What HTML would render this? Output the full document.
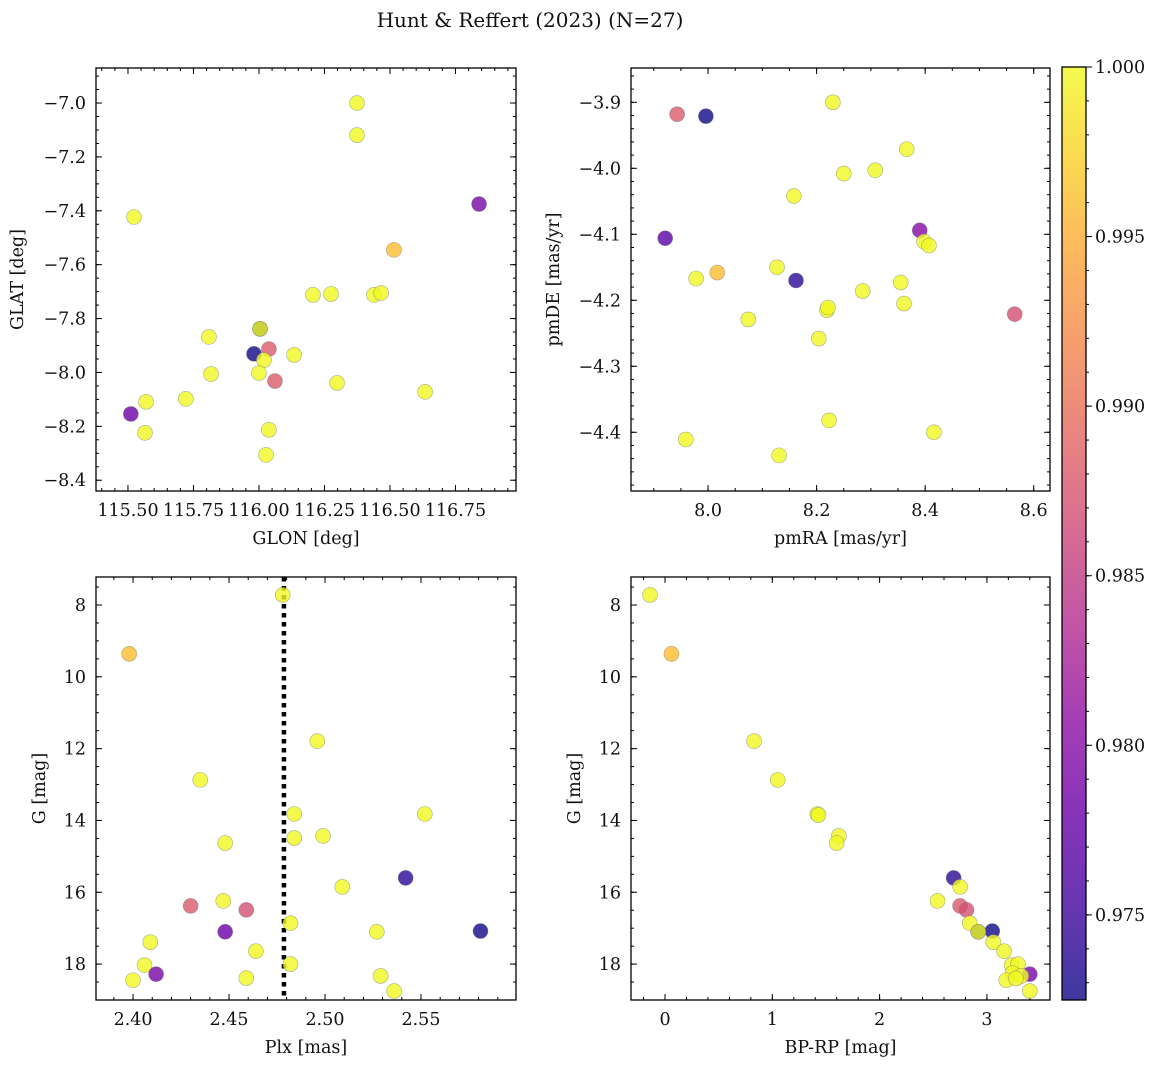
<!DOCTYPE html>
<html><head><meta charset="utf-8"><style>
body{margin:0;background:#fff}
svg text{font-family:"DejaVu Serif","Liberation Serif",serif;fill:#111}
</style></head><body>
<svg id="s" width="1161" height="1067" xmlns="http://www.w3.org/2000/svg">
<defs><linearGradient id="pl" x1="0" y1="1" x2="0" y2="0">
<stop offset="0" stop-color="#0d0887"/><stop offset="0.1" stop-color="#41049d"/><stop offset="0.2" stop-color="#6a00a8"/><stop offset="0.3" stop-color="#8f0da4"/><stop offset="0.4" stop-color="#b12a90"/><stop offset="0.5" stop-color="#cc4778"/><stop offset="0.6" stop-color="#e16462"/><stop offset="0.7" stop-color="#f2844b"/><stop offset="0.8" stop-color="#fca636"/><stop offset="0.9" stop-color="#fcce25"/><stop offset="1" stop-color="#f0f921"/></linearGradient></defs>
<text x="530" y="27" font-size="20" text-anchor="middle">Hunt &amp; Reffert (2023) (N=27)</text>
</svg>
<script>
// Panel 1: GLON / GLAT
const p1x=[116.374,116.374,115.523,116.84,116.515,116.206,116.275,116.439,116.466,115.809,115.981,116.004,116.038,116.019,116.134,115.817,116.0,116.061,116.298,116.634,115.721,115.569,115.511,115.565,116.038,116.027,116.004];
const p1y=[-7.0,-7.119,-7.423,-7.375,-7.545,-7.712,-7.709,-7.712,-7.705,-7.868,-7.931,-7.838,-7.913,-7.954,-7.935,-8.006,-8.002,-8.032,-8.039,-8.072,-8.098,-8.109,-8.154,-8.224,-8.213,-8.306,-7.838];
const p1c=[1,1,1,0.979,0.996,1,1,1,1,1,0.9726,0.9726,0.988,1,1,1,1,0.988,1,1,1,1,0.978,1,1,1,1];
// Panel 2: pmRA / pmDE
const p2x=[7.943,7.996,8.230,8.366,8.250,8.308,8.158,7.921,8.390,8.398,8.407,7.978,8.017,8.127,8.162,8.355,8.361,8.285,8.219,8.221,8.565,8.074,8.204,8.223,8.416,7.959,8.131];
const p2y=[-3.918,-3.921,-3.900,-3.971,-4.008,-4.003,-4.042,-4.106,-4.094,-4.111,-4.117,-4.167,-4.158,-4.150,-4.170,-4.173,-4.205,-4.186,-4.215,-4.211,-4.221,-4.229,-4.258,-4.382,-4.400,-4.411,-4.435];
const p2c=[0.988,0.9726,1,1,1,1,1,0.977,0.980,1,1,1,0.996,1,0.974,1,1,1,1,1,0.987,1,1,1,1,1,1];
// Panel 3: Plx / G
const p3x=[2.478,2.398,2.496,2.435,2.484,2.552,2.484,2.499,2.448,2.542,2.509,2.447,2.430,2.459,2.448,2.527,2.581,2.482,2.409,2.464,2.406,2.482,2.412,2.529,2.459,2.400,2.536];
const p3y=[7.72,9.36,11.79,12.87,13.82,13.82,14.49,14.43,14.63,15.60,15.85,16.24,16.38,16.49,17.10,17.10,17.08,16.86,17.39,17.64,18.03,18.0,18.28,18.33,18.39,18.45,18.75];
const p3c=[1,0.996,1,1,1,1,1,1,1,0.974,1,1,0.988,0.987,0.978,1,0.9726,1,1,1,1,1,0.979,1,1,1,1];
const plxMean=2.4786;
// Panel 4: BP-RP / G
const p4x=[-0.14,0.06,0.83,1.05,1.42,1.43,1.62,1.60,2.69,2.75,2.54,2.75,2.81,2.84,2.92,3.05,3.06,3.16,3.23,3.29,3.40,3.24,3.32,3.18,3.40,2.92,3.27];
const p4y=[7.72,9.36,11.79,12.87,13.82,13.85,14.43,14.63,15.60,15.85,16.24,16.38,16.49,16.86,17.10,17.08,17.39,17.64,18.03,18.0,18.28,18.25,18.33,18.45,18.75,17.10,18.40];
const p4c=[1,0.996,1,1,1,1,1,1,0.974,1,1,0.988,0.987,1,0.9726,0.9726,1,1,1,1,0.979,1,1,1,1,1,1];
const cbTicks=[1.000,0.995,0.990,0.985,0.980,0.975];

const NS="http://www.w3.org/2000/svg",S=document.getElementById('s');
function mk(t,a,p){const e=document.createElementNS(NS,t);for(const k in a)e.setAttribute(k,a[k]);(p||S).appendChild(e);return e;}
const stops=[[13,8,135],[65,4,157],[106,0,168],[143,13,164],[177,42,144],[204,71,120],[225,100,98],[242,132,75],[252,166,54],[252,206,37],[240,249,33]];
const VMIN=0.97249,VMAX=1.0;
function cmap(v){let t=Math.max(0,Math.min(1,(v-VMIN)/(VMAX-VMIN)))*10;const i=Math.min(9,Math.floor(t)),f=t-i;const a=stops[i],b=stops[i+1];return 'rgb('+a.map((c,k)=>Math.round(c+(b[k]-c)*f)).join(',')+')';}
function fmt(v,d){return (v<0?'\u2212':'')+Math.abs(v).toFixed(d);}
const FS=17.5;
function panel(o){
  const g=mk('g',{});
  
  
  const X=v=>o.L+(v-o.x0)/(o.x1-o.x0)*(o.R-o.L);
  const Y=v=>o.T+(v-o.y0)/(o.y1-o.y0)*(o.B-o.T);
  mk('rect',{x:o.L,y:o.T,width:o.R-o.L,height:o.B-o.T,fill:'none',stroke:'#000','stroke-width':1.3},g);
  const ticks=(a,b,st)=>{const r=[];const s=Math.ceil(Math.min(a,b)/st-1e-6);for(let k=s;k*st<=Math.max(a,b)+1e-9;k++)r.push(k*st);return r;};
  ticks(o.x0,o.x1,o.xmi).forEach(v=>{const x=X(v);mk('line',{x1:x,x2:x,y1:o.B,y2:o.B-3,stroke:'#000'},g);mk('line',{x1:x,x2:x,y1:o.T,y2:o.T+3,stroke:'#000'},g);});
  ticks(o.y0,o.y1,o.ymi).forEach(v=>{const y=Y(v);mk('line',{x1:o.L,x2:o.L+3,y1:y,y2:y,stroke:'#000'},g);mk('line',{x1:o.R,x2:o.R-3,y1:y,y2:y,stroke:'#000'},g);});
  o.xt.forEach(v=>{const x=X(v);mk('line',{x1:x,x2:x,y1:o.B,y2:o.B-6,stroke:'#000'},g);mk('line',{x1:x,x2:x,y1:o.T,y2:o.T+6,stroke:'#000'},g);
    const t=mk('text',{x:x,y:o.B+25,'font-size':FS,'text-anchor':'middle'},g);t.textContent=fmt(v,o.xd);
    
    });
  o.yt.forEach(v=>{const y=Y(v);mk('line',{x1:o.L,x2:o.L+6,y1:y,y2:y,stroke:'#000'},g);mk('line',{x1:o.R,x2:o.R-6,y1:y,y2:y,stroke:'#000'},g);
    const t=mk('text',{x:o.L-10,y:y+6,'font-size':FS,'text-anchor':'end'},g);t.textContent=fmt(v,o.yd);
    
    });
  const xl=mk('text',{x:(o.L+o.R)/2,y:o.B+53,'font-size':FS,'text-anchor':'middle'},g);xl.textContent=o.xl;
  
  
  const yl=mk('text',{x:0,y:0,'font-size':FS,'text-anchor':'middle',transform:`translate(${o.yx},${(o.T+o.B)/2}) rotate(-90)`},g);yl.textContent=o.yl;
  
  
  if(o.vline!==undefined){const l=mk('line',{x1:X(o.vline),x2:X(o.vline),y1:o.T,y2:o.B,stroke:'#000','stroke-width':4.5,'stroke-dasharray':'4.5,4.5'},g);
    
    }
  o.xs.forEach((v,i)=>{const c=mk('circle',{cx:X(v),cy:Y(o.ys[i]),r:7.5,fill:cmap(o.cs[i]),'fill-opacity':0.8,stroke:'#777','stroke-opacity':0.6,'stroke-width':0.6},g);
    
    });
}
panel({name:'glon-glat-panel',L:96,R:516,T:68,B:491,x0:115.378,x1:116.981,y0:-6.870,y1:-8.440,xt:[115.5,115.75,116,116.25,116.5,116.75],xd:2,xmi:0.05,yt:[-7.0,-7.2,-7.4,-7.6,-7.8,-8.0,-8.2,-8.4],yd:1,ymi:0.05,xl:'GLON [deg]',yl:'GLAT [deg]',yx:23,xs:p1x,ys:p1y,cs:p1c});
panel({name:'proper-motion-panel',L:631,R:1050,T:68,B:491,x0:7.858,x1:8.630,y0:-3.848,y1:-4.489,xt:[8.0,8.2,8.4,8.6],xd:1,xmi:0.05,yt:[-3.9,-4.0,-4.1,-4.2,-4.3,-4.4],yd:1,ymi:0.02,xl:'pmRA [mas/yr]',yl:'pmDE [mas/yr]',yx:559,xs:p2x,ys:p2y,cs:p2c});
panel({name:'parallax-mag-panel',L:96,R:516,T:577,B:1000,x0:2.3807,x1:2.5995,y0:7.22,y1:19.0,xt:[2.40,2.45,2.50,2.55],xd:2,xmi:0.01,yt:[8,10,12,14,16,18],yd:0,ymi:0.5,xl:'Plx [mas]',yl:'G [mag]',yx:45,xs:p3x,ys:p3y,cs:p3c,vline:plxMean});
panel({name:'cmd-panel',L:631,R:1050,T:577,B:1000,x0:-0.317,x1:3.588,y0:7.22,y1:19.0,xt:[0,1,2,3],xd:0,xmi:0.2,yt:[8,10,12,14,16,18],yd:0,ymi:0.5,xl:'BP-RP [mag]',yl:'G [mag]',yx:580,xs:p4x,ys:p4y,cs:p4c});
// colorbar
const cb=mk('g',{});


const CT=67,CB=1000,CL=1062,CR=1086;
mk('rect',{x:CL,y:CT,width:CR-CL,height:CB-CT,fill:'url(#pl)','fill-opacity':0.8},cb);
mk('rect',{x:CL,y:CT,width:CR-CL,height:CB-CT,fill:'none',stroke:'#000','stroke-width':1.3},cb);
const CY=v=>CB-(v-VMIN)/(VMAX-VMIN)*(CB-CT);
for(let k=973;k<=1000;k++){const y=CY(k/1000);mk('line',{x1:CR,x2:CR+3,y1:y,y2:y,stroke:'#000'},cb);}
cbTicks.forEach(v=>{const y=CY(v);mk('line',{x1:CR,x2:CR+6,y1:y,y2:y,stroke:'#000'},cb);
  const t=mk('text',{x:CR+9,y:y+6,'font-size':FS},cb);t.textContent=v.toFixed(3);
  
  });
</script>
</body></html>
